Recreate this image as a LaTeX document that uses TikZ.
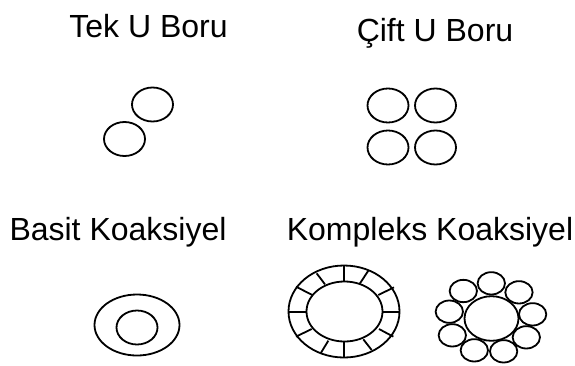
\documentclass[tikz,border=0pt]{standalone}
\usepackage{fontspec}
\setmainfont{Liberation Sans}
\tikzset{
  x=1pt,y=-1pt,
  tube/.style={draw=black,line width=1.8pt},
  lbl/.style={inner sep=0pt,anchor=base,font=\fontsize{32}{36}\selectfont}
}
\begin{document}
\begin{tikzpicture}
\useasboundingbox (0,0) rectangle (575,365);
\fill[white] (0,0) rectangle (575,365);
\node[lbl] (t1) at (148.5,37) {Tek U Boru};
\node[lbl] (t2) at (435,41) {Çift U Boru};
\node[lbl] (t3) at (118,240) {Basit Koaksiyel};
\node[lbl] (t4) at (430,240) {Kompleks Koaksiyel};
% Tek U
\draw[tube] (152.5,104.5) ellipse [x radius=20.5,y radius=17];
\draw[tube] (124.5,139) ellipse [x radius=20.5,y radius=17];
% Cift U
\foreach \cx/\cy in {388/105.5,435.5/105.5,388/147.5,435.5/147.5}
  \draw[tube] (\cx,\cy) ellipse [x radius=20.5,y radius=17];
% Basit koaksiyel
\draw[tube] (137,325) ellipse [x radius=42.5,y radius=30.5];
\draw[tube] (137,327.5) ellipse [x radius=20.5,y radius=17];
% Kompleks: spoked ring
\draw[tube] (344,311.5) ellipse [x radius=55.5,y radius=46];
\draw[tube] (344.5,311.5) ellipse [x radius=38,y radius=30];
\begin{scope}[shift={(270,250)},x=0.3333pt,y=-0.3333pt]
\foreach \a/\b/\c/\d in {222/45/222/93,222/277/222/323,55/185/108/185,340/185/390/185,
  140/70/165/103,295/62/270/100,78/110/127/135,372/112/325/135,
  78/260/125/237,370/260/327/237,175/272/152/310,280/268/305/300}
  \draw[tube] (\a,\b) -- (\c,\d);
\end{scope}
% Kompleks: ring of tubes
\begin{scope}[shift={(270,250)},x=0.3333pt,y=-0.3333pt]
\foreach \cx/\cy in {580/123,664/100,747/127,788/193,769/262,701/304,613/301,547/256,538/185}
  \draw[tube,fill=white] (\cx,\cy) ellipse [x radius=41,y radius=33.5];
\end{scope}
\draw[tube,fill=white] (491.5,318.5) ellipse [x radius=27,y radius=22.3];
\end{tikzpicture}
\end{document}
